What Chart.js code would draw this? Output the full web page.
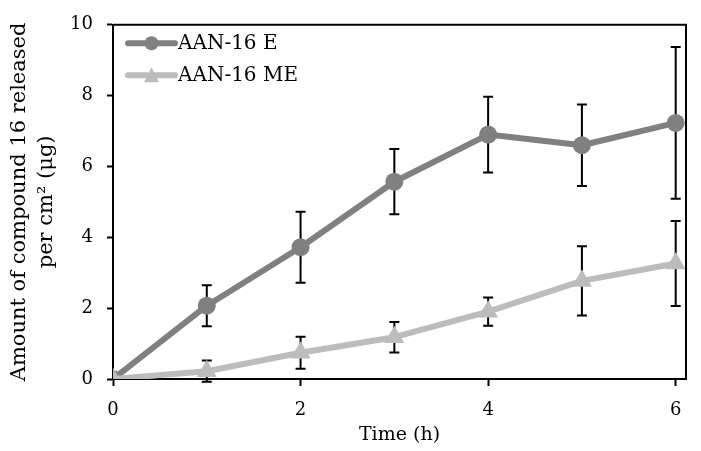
<!DOCTYPE html>
<html>
<head>
<meta charset="utf-8">
<script src="https://cdn.jsdelivr.net/npm/chart.js@4/dist/chart.umd.min.js"></script>
<style>
  html, body { margin: 0; padding: 0; background: #ffffff; }
  #wrap { width: 701px; height: 451px; }
</style>
</head>
<body>
<div id="wrap"><canvas id="c" width="701" height="451"></canvas></div>
<script>
// ---- data ----
const timePoints = [0, 1, 2, 3, 4, 5, 6];
const seriesLabels = ['AAN-16 E', 'AAN-16 ME'];
const valuesE = [0, 2.07, 3.72, 5.57, 6.90, 6.60, 7.23];
const errorsE = [0, 0.58, 1.00, 0.92, 1.07, 1.15, 2.14];
const valuesME = [0, 0.22, 0.74, 1.18, 1.90, 2.77, 3.26];
const errorsME = [0, 0.30, 0.45, 0.43, 0.40, 0.98, 1.20];
const xTickValues = [0, 2, 4, 6];
const yTickValues = [0, 2, 4, 6, 8, 10];
const xTitle = 'Time (h)';
const yTitle = ['Amount of compound 16 released', 'per cm\u00B2 (\u03BCg)'];

const colE = 'rgb(128,128,128)';
const colME = 'rgb(188,188,188)';
const FONT = "'DejaVu Serif', 'Liberation Serif', serif";

const errorBarPlugin = {
  id: 'errorBars',
  beforeDatasetsDraw(chart) {
    const ctx = chart.ctx;
    const xs = chart.scales.x, ys = chart.scales.y;
    const sets = [[valuesE, errorsE], [valuesME, errorsME]];
    ctx.save();
    ctx.strokeStyle = '#000';
    ctx.lineWidth = 2;
    sets.forEach(([vals, errs]) => {
      vals.forEach((v, i) => {
        const e = errs[i];
        if (!e) return;
        const x = xs.getPixelForValue(timePoints[i]);
        const yt = ys.getPixelForValue(v + e);
        const yb = ys.getPixelForValue(v - e);
        ctx.beginPath();
        ctx.moveTo(x, yt); ctx.lineTo(x, yb);
        ctx.moveTo(x - 5, yt); ctx.lineTo(x + 5, yt);
        ctx.moveTo(x - 5, yb); ctx.lineTo(x + 5, yb);
        ctx.stroke();
      });
    });
    ctx.restore();
  }
};

const framePlugin = {
  id: 'frame',
  afterDraw(chart) {
    const ctx = chart.ctx;
    const a = chart.chartArea;
    ctx.save();
    ctx.strokeStyle = '#000';
    ctx.lineWidth = 2;
    ctx.beginPath();
    ctx.moveTo(a.left, a.top);
    ctx.lineTo(a.right, a.top);
    ctx.lineTo(a.right, a.bottom);
    ctx.stroke();
    ctx.restore();
  }
};

const insideLegendPlugin = {
  id: 'insideLegend',
  afterDraw(chart) {
    const ctx = chart.ctx;
    const a = chart.chartArea;
    ctx.save();
    chart.data.datasets.forEach((ds, i) => {
      const y = a.top + 18.5 + i * 32;
      const x0 = a.left + 15, x1 = a.left + 62;
      ctx.strokeStyle = ds.borderColor;
      ctx.lineWidth = 6;
      ctx.lineCap = 'round';
      ctx.beginPath();
      ctx.moveTo(x0, y); ctx.lineTo(x1, y);
      ctx.stroke();
      const cx = (x0 + x1) / 2;
      ctx.fillStyle = ds.backgroundColor;
      ctx.beginPath();
      if (ds.pointStyle === 'triangle') {
        ctx.moveTo(cx, y - 8);
        ctx.lineTo(cx + 7.5, y + 7);
        ctx.lineTo(cx - 7.5, y + 7);
        ctx.closePath();
      } else {
        ctx.arc(cx, y, 7, 0, Math.PI * 2);
      }
      ctx.fill();
      ctx.fillStyle = '#000';
      ctx.font = '20px ' + FONT;
      ctx.textBaseline = 'middle';
      ctx.textAlign = 'left';
      ctx.fillText(ds.label, x1 + 3, y);
    });
    ctx.restore();
  }
};

new Chart(document.getElementById('c'), {
  type: 'line',
  data: {
    datasets: [
      {
        label: seriesLabels[0],
        data: timePoints.map((t, i) => ({ x: t, y: valuesE[i] })),
        borderColor: colE,
        backgroundColor: colE,
        borderWidth: 6,
        borderCapStyle: 'round',
        borderJoinStyle: 'round',
        pointStyle: 'circle',
        pointRadius: 9,
        pointBorderWidth: 0,
        pointBackgroundColor: colE,
        order: 1
      },
      {
        label: seriesLabels[1],
        data: timePoints.map((t, i) => ({ x: t, y: valuesME[i] })),
        borderColor: colME,
        backgroundColor: colME,
        borderWidth: 6,
        borderCapStyle: 'round',
        borderJoinStyle: 'round',
        pointStyle: 'triangle',
        pointRadius: 11.5,
        pointBorderWidth: 0,
        pointBackgroundColor: colME,
        order: 0
      }
    ]
  },
  options: {
    responsive: false,
    animation: false,
    devicePixelRatio: 1,
    layout: { padding: { left: 0, right: 15, top: 19, bottom: 0 } },
    plugins: {
      legend: { display: false },
      tooltip: { enabled: false }
    },
    scales: {
      x: {
        type: 'linear',
        min: 0,
        max: 6.11,
        afterBuildTicks(scale) { scale.ticks = xTickValues.map(v => ({ value: v })); },
        afterFit(scale) { scale.height = 72; },
        border: { display: true, color: '#000', width: 2 },
        grid: { drawOnChartArea: false, drawTicks: true, tickLength: 7, tickWidth: 2, tickColor: '#000' },
        ticks: { color: '#000', font: { family: FONT, size: 18 }, padding: 14, maxRotation: 0 },
        title: {
          display: true,
          text: xTitle,
          color: '#000',
          font: { family: FONT, size: 19, lineHeight: 1.2 },
          padding: { top: 0, bottom: 5 }
        }
      },
      y: {
        min: 0,
        max: 10,
        afterBuildTicks(scale) { scale.ticks = yTickValues.map(v => ({ value: v })); },
        afterFit(scale) { scale.width = 113; },
        border: { display: true, color: '#000', width: 2 },
        grid: { drawOnChartArea: false, drawTicks: true, tickLength: 6, tickWidth: 2, tickColor: '#000' },
        ticks: { color: '#000', font: { family: FONT, size: 18 }, padding: 14 },
        title: {
          display: true,
          text: yTitle,
          color: '#000',
          font: { family: FONT, size: 21, lineHeight: 1.29 },
          padding: { top: 6, bottom: 0 }
        }
      }
    }
  },
  plugins: [errorBarPlugin, framePlugin, insideLegendPlugin]
});
</script>
</body>
</html>
